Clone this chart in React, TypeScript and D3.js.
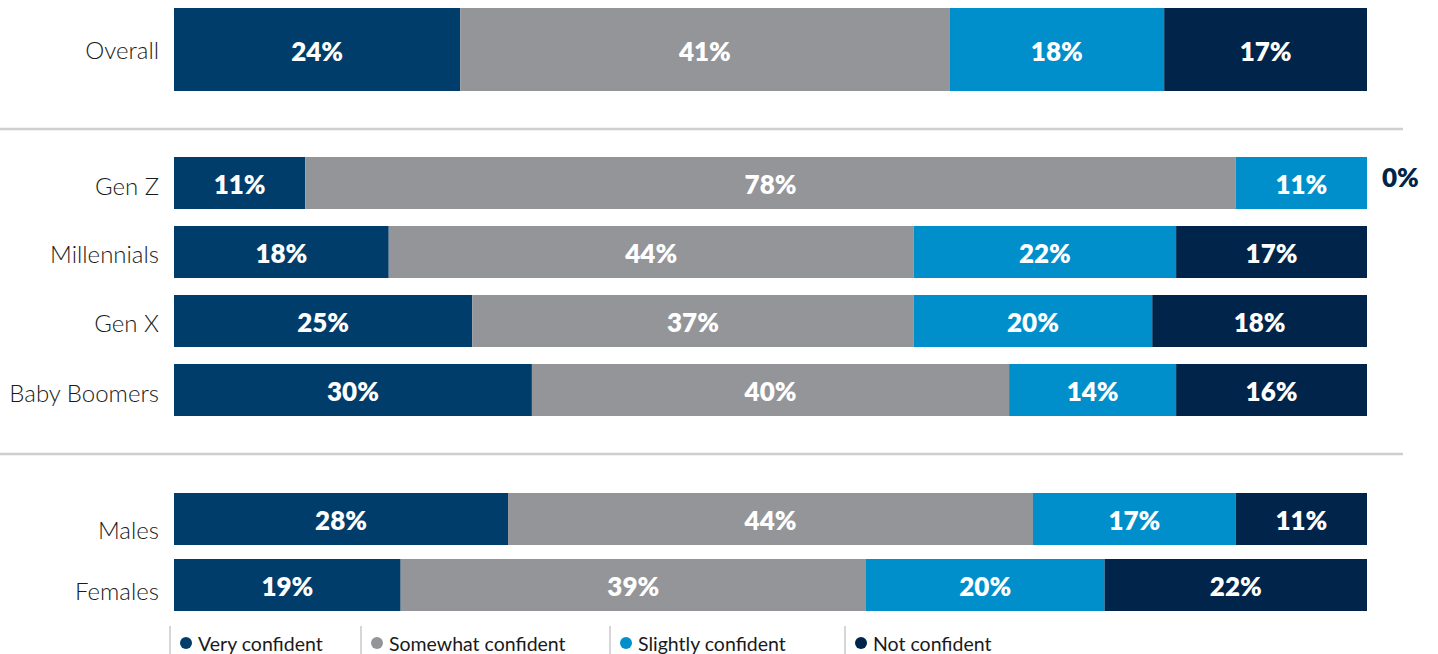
import { useEffect, useRef } from 'react';
import * as d3 from 'd3';

// Confidence levels (stack order) and their colours
const levels = ['Very confident', 'Somewhat confident', 'Slightly confident', 'Not confident'];
const levelColors = ['#003d6a', '#939598', '#008fcb', '#00244a'];

// Rows, grouped by section
const overallRows = ['Overall'];
const generationRows = ['Gen Z', 'Millennials', 'Gen X', 'Baby Boomers'];
const genderRows = ['Males', 'Females'];

// Values per row, in the order of `levels`
const overallValues = [[24, 41, 18, 17]];
const generationValues = [
    [11, 78, 11, 0],
    [18, 44, 22, 17],
    [25, 37, 20, 18],
    [30, 40, 14, 16],
];
const genderValues = [
    [28, 44, 17, 11],
    [19, 39, 20, 22],
];

const WIDTH = 1438;
const HEIGHT = 654;

export default function App() {
    const svgRef = useRef<SVGSVGElement>(null);

    useEffect(() => {
        if (!svgRef.current) return;
        const svg = d3.select(svgRef.current);
        svg.selectAll('*').remove();

        // rounded values can add up to 101 -> the last segment is cut at 100
        const x = d3.scaleLinear().domain([0, 100]).range([174, 1367]).clamp(true);

        const sections = [
            { rows: overallRows, values: overallValues, y: d3.scaleBand().domain(overallRows).range([8, 91]), labelDy: [0] },
            { rows: generationRows, values: generationValues, y: d3.scaleBand().domain(generationRows).range([157, 416]).paddingInner(17 / 69), labelDy: [2, 1, 1, 2] },
            { rows: genderRows, values: genderValues, y: d3.scaleBand().domain(genderRows).range([493, 611]).paddingInner(14 / 66), labelDy: [10, 5] },
        ];

        // separators between sections
        [129, 454].forEach(sy => {
            svg.append('line')
                .attr('x1', 0).attr('x2', 1403)
                .attr('y1', sy).attr('y2', sy)
                .attr('stroke', '#cfcfcf')
                .attr('stroke-width', 2.5);
        });

        sections.forEach(sec => {
            sec.rows.forEach((row, i) => {
                const vals = sec.values[i];
                const y0 = sec.y(row)!;
                const h = sec.y.bandwidth();
                const g = svg.append('g');

                g.append('text')
                    .attr('x', 159)
                    .attr('y', y0 + h / 2 + sec.labelDy[i])
                    .attr('text-anchor', 'end')
                    .attr('dominant-baseline', 'central')
                    .attr('font-family', 'Lato, sans-serif')
                    .attr('font-weight', 300)
                    .attr('font-size', 24)
                    .attr('fill', '#1a1a1a')
                    .text(row);

                let acc = 0;
                vals.forEach((v, k) => {
                    const start = acc;
                    acc += v;
                    const end = acc;
                    if (v > 0) {
                        const x0 = x(start);
                        const x1 = x(end);
                        g.append('rect')
                            .attr('x', x0)
                            .attr('y', y0)
                            .attr('width', x1 - x0)
                            .attr('height', h)
                            .attr('fill', levelColors[k]);
                        g.append('text')
                            .attr('x', (x0 + x1) / 2)
                            .attr('y', y0 + h / 2 + 1)
                            .attr('text-anchor', 'middle')
                            .attr('dominant-baseline', 'central')
                            .attr('font-family', 'Lato, sans-serif')
                            .attr('font-weight', 800)
                            .attr('font-size', 26)
                            .attr('fill', '#ffffff')
                            .text(`${v}%`);
                    } else {
                        // zero value shown outside the bar
                        g.append('text')
                            .attr('x', x(100) + 15)
                            .attr('y', y0 + h / 2 - 6)
                            .attr('text-anchor', 'start')
                            .attr('dominant-baseline', 'central')
                            .attr('font-family', 'Lato, sans-serif')
                            .attr('font-weight', 800)
                            .attr('font-size', 26)
                            .attr('fill', levelColors[k])
                            .text(`${v}%`);
                    }
                });
            });
        });

        // legend
        const legendX = [170, 361, 610, 845];
        const legend = svg.append('g');
        levels.forEach((lvl, k) => {
            const lx = legendX[k];
            legend.append('line')
                .attr('x1', lx).attr('x2', lx)
                .attr('y1', 626).attr('y2', HEIGHT)
                .attr('stroke', '#c8c8c8')
                .attr('stroke-width', 1.5);
            legend.append('circle')
                .attr('cx', lx + 16)
                .attr('cy', 643)
                .attr('r', 6)
                .attr('fill', levelColors[k]);
            legend.append('text')
                .attr('x', lx + 28)
                .attr('y', 643)
                .attr('dominant-baseline', 'central')
                .attr('font-family', 'Lato, sans-serif')
                .attr('font-size', 19.5)
                .attr('fill', '#1a1a1a')
                .text(lvl);
        });
    }, []);

    return (
        <svg
            ref={svgRef}
            width={WIDTH}
            height={HEIGHT}
            style={{ position: 'absolute', left: 0, top: 0, background: '#fff' }}
        />
    );
}
